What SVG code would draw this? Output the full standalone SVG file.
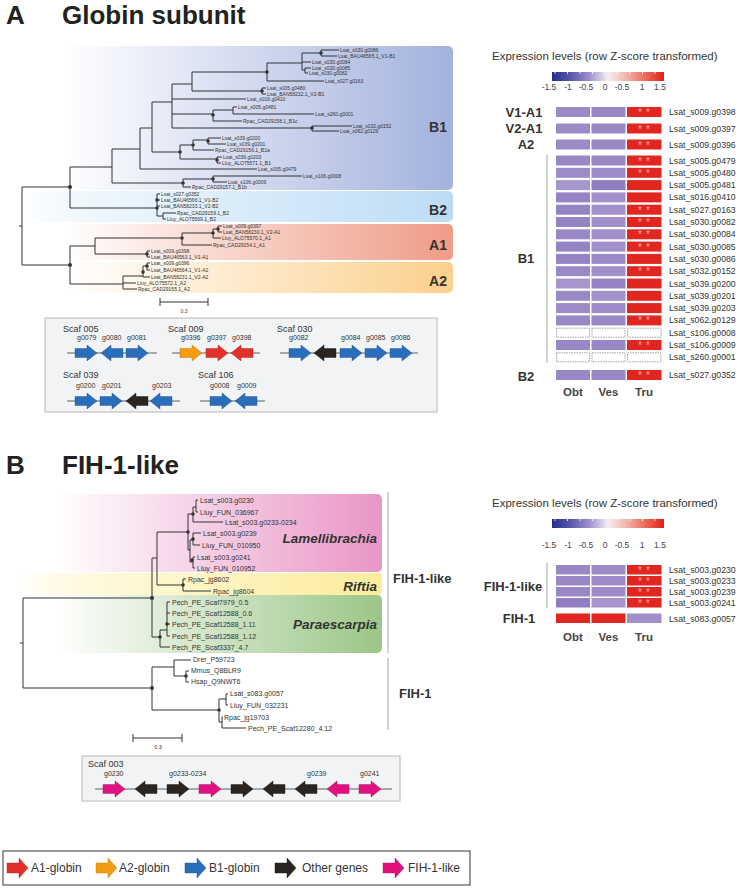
<svg xmlns="http://www.w3.org/2000/svg" xmlns:xlink="http://www.w3.org/1999/xlink" width="740" height="888" viewBox="0 0 740 888">
<style>
text{font-family:"Liberation Sans",Arial,sans-serif;fill:#333}
.ttl{font-size:26px;font-weight:bold;fill:#222}
.la{font-size:5px}
.lb{font-size:7px}
.cl{font-size:14px;font-weight:bold;fill:#333;text-anchor:end}
.ci{font-size:13.5px;font-weight:bold;font-style:italic;text-anchor:end}
.br{font-size:13px;font-weight:bold;fill:#333;text-anchor:middle}
.hl{font-size:8.7px}
.ht{font-size:11.5px;fill:#333}
.tk{font-size:8.5px;text-anchor:middle}
.tk text{fill:#444}
.col{font-size:11.5px;font-weight:bold;fill:#444;text-anchor:middle}
.sc{font-size:9px}
.gn{font-size:7px}
.lg{font-size:12px}
.ast{font-size:10px;text-anchor:middle;letter-spacing:4px}
.ast text{fill:#f7a8a8}
.tr{fill:none;stroke:#333;stroke-width:1}
.dot{fill:#333}
.gl{stroke:#a8a8a8;stroke-width:2}
.box{fill:#f2f3f5;stroke:#c4c4c4;stroke-width:1.2}
.p1{fill:#9a88c6}.p2{fill:#9d8bc8}.p3{fill:#a796cd}.p4{fill:#8f7dc0}.p5{fill:#a08fc9}.p6{fill:#9583c3}
.rd{fill:#e1251f}
.ds{fill:#fff;stroke:#888;stroke-width:0.8;stroke-dasharray:1.5 1}
.bk{stroke:#c4c4c4;stroke-width:1.5}
.ab{fill:#2a6ebb;stroke:#1d4f8c;stroke-width:0.4}
.ar{fill:#e2302a;stroke:#a81d19;stroke-width:0.4}
.ao{fill:#f39c12;stroke:#b5720b;stroke-width:0.4}
.ak{fill:#2b2522;stroke:#111;stroke-width:0.4}
.ap{fill:#e0107f;stroke:#a00a5a;stroke-width:0.4}
</style>
<defs>
<linearGradient id="gB1" x1="0" x2="1" y1="0" y2="0"><stop offset="0" stop-color="#fff"/><stop offset="0.1" stop-color="#fff"/><stop offset="1" stop-color="#a3b2de"/></linearGradient>
<linearGradient id="gB2" x1="0" x2="1" y1="0" y2="0"><stop offset="0" stop-color="#fff"/><stop offset="0.1" stop-color="#f3f9fd"/><stop offset="1" stop-color="#bcdcf5"/></linearGradient>
<linearGradient id="gA1" x1="0" x2="1" y1="0" y2="0"><stop offset="0" stop-color="#fff"/><stop offset="0.1" stop-color="#fff"/><stop offset="1" stop-color="#ef9c86"/></linearGradient>
<linearGradient id="gA2" x1="0" x2="1" y1="0" y2="0"><stop offset="0" stop-color="#fff"/><stop offset="0.1" stop-color="#fff"/><stop offset="1" stop-color="#fcd08c"/></linearGradient>
<linearGradient id="gLam" x1="0" x2="1" y1="0" y2="0"><stop offset="0" stop-color="#fff"/><stop offset="0.1" stop-color="#fff"/><stop offset="1" stop-color="#e996c6"/></linearGradient>
<linearGradient id="gRif" x1="0" x2="1" y1="0" y2="0"><stop offset="0" stop-color="#fff"/><stop offset="0.1" stop-color="#fffbe6"/><stop offset="1" stop-color="#fcec9a"/></linearGradient>
<linearGradient id="gPar" x1="0" x2="1" y1="0" y2="0"><stop offset="0" stop-color="#fff"/><stop offset="0.1" stop-color="#fff"/><stop offset="1" stop-color="#9cc687"/></linearGradient>
<linearGradient id="gCB" x1="0" x2="1" y1="0" y2="0"><stop offset="0" stop-color="#232f8c"/><stop offset="0.17" stop-color="#5b58aa"/><stop offset="0.33" stop-color="#9b8fcb"/><stop offset="0.5" stop-color="#f4eef1"/><stop offset="0.67" stop-color="#f1b3a8"/><stop offset="0.83" stop-color="#ea6d5c"/><stop offset="1" stop-color="#e31f1b"/></linearGradient>
<path id="ar" d="M0,-4.5H12V-8L22,0L12,8V4.5H0Z"/>
<path id="al" d="M22,-4.5H10V-8L0,0L10,8V4.5H22Z"/>
<path id="lgA" d="M0,-5H12V-10L21,0L12,10V5H0Z"/>
<g id="cbar"><rect x="0" y="0" width="112" height="9" fill="url(#gCB)"/><path d="M3,0v2M15.5,0v2M28,0v2M40.5,0v2M53,0v2M65.5,0v2M78,0v2M90.5,0v2M103,0v2" stroke="#fff" stroke-width="0.8"/></g>
</defs>
<rect width="740" height="888" fill="#fff"/>

<!-- Titles -->
<text class="ttl" x="6" y="24">A</text>
<text class="ttl" x="62" y="24">Globin subunit</text>
<text class="ttl" x="6" y="474">B</text>
<text class="ttl" x="62" y="474">FIH-1-like</text>

<!-- Panel A clade bands -->
<g id="bands-A">
<rect x="20" y="46" width="433" height="144" rx="5" fill="url(#gB1)"/>
<rect x="20" y="191" width="433" height="31" rx="5" fill="url(#gB2)"/>
<rect x="20" y="224" width="433" height="36" rx="5" fill="url(#gA1)"/>
<rect x="20" y="262" width="433" height="31" rx="5" fill="url(#gA2)"/>
<text class="cl" x="447" y="132">B1</text>
<text class="cl" x="447" y="215">B2</text>
<text class="cl" x="447" y="250">A1</text>
<text class="cl" x="447" y="286">A2</text>
</g>

<!-- Tree A connectors -->
<g id="tree-A-connectors">
<path class="tr" d="M19,226H22M22,187V265M22,187H70M22,265H70
M70,167V208M70,167H112M70,208H157
M112,149V183M112,149H140M112,183H183
M140,128V169M140,128H152M140,169H257
M152,102V152M152,102H172M152,152H180
M172,84V128M172,84H192M172,99H246M172,114H213M172,128H312
M192,72V91M192,72H267M192,91H262
M267,63V81M267,63H302M267,81H324
M302,53V70M302,53H321M302,62H311M302,70H305
M321,50V56M321,50H339M321,56H337
M305,68V73M305,68H311M305,73H308
M262,88V94M262,88H266M262,94H266
M213,110V121M213,110H233M213,121H242
M233,107V114M233,107H237M233,114H314
M312,126V131M312,126H352M312,131H339
M180,145V159M180,145H193M180,159H217
M193,140V150M193,140H208M193,150H214
M208,138V144M208,138H221M208,144H226
M217,157V163M217,157H222M217,163H221
M183,179V187M183,179H213M183,187H191
M213,176V182M213,176H302M213,182H227
M157,194V216M157,194H160M157,200H160M157,206H160M157,216H163
M163,213V219M163,213H176M163,219H166
M70,246V284M70,246H95M70,284H123
M95,238V254M95,238H182M95,254H147
M182,233V245M182,233H213M182,245H212
M213,229V238M213,229H218M213,238H221
M218,226V232M218,226H222M218,232H222
M147,251V257M147,251H150M147,257H150
M123,276V289M123,276H143M123,283H136M123,289H137
M143,266V277M143,266H147M143,277H150
M147,263V270M147,263H150M147,270H150"/>
<g class="dot">
<circle cx="70" cy="187" r="2"/><circle cx="70" cy="265" r="2"/><circle cx="157" cy="200" r="1.8"/><circle cx="157" cy="208" r="1.8"/>
<circle cx="183" cy="183" r="1.8"/><circle cx="213" cy="179" r="1.8"/><circle cx="180" cy="152" r="1.8"/><circle cx="193" cy="145" r="1.8"/>
<circle cx="208" cy="141" r="1.8"/><circle cx="217" cy="160" r="1.8"/><circle cx="321" cy="53" r="1.8"/><circle cx="267" cy="72" r="1.8"/>
<circle cx="262" cy="91" r="1.8"/><circle cx="213" cy="115" r="1.8"/><circle cx="312" cy="128" r="1.8"/>
<circle cx="182" cy="238" r="1.8"/><circle cx="213" cy="233" r="1.8"/><circle cx="218" cy="229" r="1.8"/><circle cx="147" cy="254" r="1.8"/>
<circle cx="147" cy="266" r="1.8"/><circle cx="143" cy="272" r="1.8"/>
</g>
<path class="tr" d="M160,302H208M160,298V306M208,298V306"/>
</g>

<!-- Tree A leaves -->
<g id="leaves-A" class="la">
<text x="340" y="52">Lsat_s030.g0086</text>
<text x="338" y="58">Lsat_BAU46565.1_V1-B1</text>
<text x="312" y="64">Lsat_s030.g0084</text>
<text x="312" y="70">Lsat_s030.g0085</text>
<text x="309" y="75">Lsat_s030.g0082</text>
<text x="325" y="83">Lsat_s027.g0163</text>
<text x="267" y="90">Lsat_s005.g0480</text>
<text x="267" y="96">Lsat_BAN58232.1_V2-B1</text>
<text x="247" y="101">Lsat_s016.g0410</text>
<text x="238" y="109">Lsat_s005.g0481</text>
<text x="315" y="116">Lsat_s260.g0001</text>
<text x="243" y="123">Rpac_CAD29158.1_B1c</text>
<text x="353" y="128">Lsat_s032.g0152</text>
<text x="340" y="133">Lsat_s062.g0129</text>
<text x="222" y="140">Lsat_s039.g0200</text>
<text x="227" y="146">Lsat_s039.g0201</text>
<text x="215" y="152">Rpac_CAD29156.1_B1a</text>
<text x="223" y="159">Lsat_s039.g0203</text>
<text x="222" y="165">Lluy_ALO75571.1_B1</text>
<text x="258" y="171">Lsat_s005.g0479</text>
<text x="303" y="178">Lsat_s106.g0008</text>
<text x="228" y="184">Lsat_s106.g0009</text>
<text x="192" y="189">Rpac_CAD29157.1_B1b</text>
<text x="161" y="196">Lsat_s027.g0352</text>
<text x="161" y="202">Lsat_BAU46566.1_V1-B2</text>
<text x="161" y="208">Lsat_BAN58233.1_V2-B2</text>
<text x="177" y="215">Rpac_CAD29159.1_B2</text>
<text x="167" y="221">Lluy_ALO75569.1_B2</text>
<text x="223" y="228">Lsat_s009.g0397</text>
<text x="223" y="234">Lsat_BAN58230.1_V2-A1</text>
<text x="222" y="240">Lluy_ALO75570.1_A1</text>
<text x="213" y="247">Rpac_CAD29154.1_A1</text>
<text x="151" y="253">Lsat_s009.g0398</text>
<text x="151" y="259">Lsat_BAU46563.1_V1-A1</text>
<text x="151" y="265">Lsat_s009.g0396</text>
<text x="151" y="272">Lsat_BAU46564.1_V1-A2</text>
<text x="151" y="279">Lsat_BAN58231.1_V2-A2</text>
<text x="137" y="285">Lluy_ALO75572.1_A2</text>
<text x="138" y="291">Rpac_CAD29155.1_A2</text>
<text x="184" y="313" text-anchor="middle">0.3</text>
</g>

<!-- Scaffold box A -->
<g id="scaf-A">
<rect class="box" x="45" y="318" width="392" height="94"/>
<text class="sc" x="63" y="332">Scaf 005</text>
<text class="gn" x="77" y="340">g0079</text><text class="gn" x="102" y="340">g0080</text><text class="gn" x="127" y="340">g0081</text>
<line class="gl" x1="67" y1="353" x2="157" y2="353"/>
<use href="#ar" x="75" y="353" class="ab"/><use href="#al" x="101" y="353" class="ab"/><use href="#ar" x="126" y="353" class="ab"/>
<text class="sc" x="168" y="332">Scaf 009</text>
<text class="gn" x="181" y="340">g0396</text><text class="gn" x="207" y="340">g0397</text><text class="gn" x="232" y="340">g0398</text>
<line class="gl" x1="172" y1="353" x2="260" y2="353"/>
<use href="#ar" x="180" y="353" class="ao"/><use href="#ar" x="206" y="353" class="ar"/><use href="#al" x="231" y="353" class="ar"/>
<text class="sc" x="277" y="332">Scaf 030</text>
<text class="gn" x="289" y="340">g0082</text><text class="gn" x="341" y="340">g0084</text><text class="gn" x="366" y="340">g0085</text><text class="gn" x="391" y="340">g0086</text>
<line class="gl" x1="280" y1="353" x2="418" y2="353"/>
<use href="#ar" x="289" y="353" class="ab"/><use href="#al" x="314" y="353" class="ak"/><use href="#ar" x="340" y="353" class="ab"/><use href="#ar" x="365" y="353" class="ab"/><use href="#ar" x="390" y="353" class="ab"/>
<text class="sc" x="63" y="378">Scaf 039</text>
<text class="gn" x="76" y="388">g0200</text><text class="gn" x="102" y="388">g0201</text><text class="gn" x="152" y="388">g0203</text>
<line class="gl" x1="67" y1="401" x2="180" y2="401"/>
<use href="#ar" x="75" y="401" class="ab"/><use href="#ar" x="100" y="401" class="ab"/><use href="#al" x="126" y="401" class="ak"/><use href="#al" x="150" y="401" class="ab"/>
<text class="sc" x="198" y="378">Scaf 106</text>
<text class="gn" x="210" y="388">g0008</text><text class="gn" x="237" y="388">g0009</text>
<line class="gl" x1="200" y1="401" x2="265" y2="401"/>
<use href="#ar" x="210" y="401" class="ab"/><use href="#al" x="235" y="401" class="ab"/>
</g>

<!-- Heatmap A -->
<g id="heatmap-A">
<text class="ht" x="492" y="60">Expression levels (row Z-score transformed)</text>
<use href="#cbar" x="552" y="72"/>
<g class="tk"><text x="549" y="90">-1.5</text><text x="568" y="90">-1</text><text x="586" y="90">-0.5</text><text x="605" y="90">0</text><text x="622" y="90">-0.5</text><text x="642" y="90">1</text><text x="660" y="90">1.5</text></g>
<text class="br" x="524" y="117">V1-A1</text>
<text class="br" x="524" y="133">V2-A1</text>
<text class="br" x="526" y="149">A2</text>
<text class="br" x="526" y="263">B1</text>
<text class="br" x="526" y="381">B2</text>
<line class="bk" x1="547" y1="155" x2="547" y2="363"/>
<rect class="p2" x="556" y="107" width="34" height="10"/><rect class="p1" x="591.5" y="107" width="34" height="10"/><rect class="rd" x="627" y="107" width="34.5" height="10"/>
<rect class="p2" x="556" y="123.5" width="34" height="10"/><rect class="p1" x="591.5" y="123.5" width="34" height="10"/><rect class="rd" x="627" y="123.5" width="34.5" height="10"/>
<rect class="p2" x="556" y="139.5" width="34" height="10"/><rect class="p1" x="591.5" y="139.5" width="34" height="10"/><rect class="rd" x="627" y="139.5" width="34.5" height="10"/>
<rect class="p1" x="556" y="155.5" width="34" height="10"/><rect class="p1" x="591.5" y="155.5" width="34" height="10"/><rect class="rd" x="627" y="155.5" width="34.5" height="10"/>
<rect class="p2" x="556" y="167.8" width="34" height="10"/><rect class="p2" x="591.5" y="167.8" width="34" height="10"/><rect class="rd" x="627" y="167.8" width="34.5" height="10"/>
<rect class="p3" x="556" y="180.1" width="34" height="10"/><rect class="p4" x="591.5" y="180.1" width="34" height="10"/><rect class="rd" x="627" y="180.1" width="34.5" height="10"/>
<rect class="p6" x="556" y="192.4" width="34" height="10"/><rect class="p5" x="591.5" y="192.4" width="34" height="10"/><rect class="rd" x="627" y="192.4" width="34.5" height="10"/>
<rect class="p6" x="556" y="204.7" width="34" height="10"/><rect class="p5" x="591.5" y="204.7" width="34" height="10"/><rect class="rd" x="627" y="204.7" width="34.5" height="10"/>
<rect class="p6" x="556" y="217" width="34" height="10"/><rect class="p5" x="591.5" y="217" width="34" height="10"/><rect class="rd" x="627" y="217" width="34.5" height="10"/>
<rect class="p1" x="556" y="229.3" width="34" height="10"/><rect class="p5" x="591.5" y="229.3" width="34" height="10"/><rect class="rd" x="627" y="229.3" width="34.5" height="10"/>
<rect class="p6" x="556" y="241.6" width="34" height="10"/><rect class="p5" x="591.5" y="241.6" width="34" height="10"/><rect class="rd" x="627" y="241.6" width="34.5" height="10"/>
<rect class="p6" x="556" y="253.9" width="34" height="10"/><rect class="p2" x="591.5" y="253.9" width="34" height="10"/><rect class="rd" x="627" y="253.9" width="34.5" height="10"/>
<rect class="p1" x="556" y="266.2" width="34" height="10"/><rect class="p5" x="591.5" y="266.2" width="34" height="10"/><rect class="rd" x="627" y="266.2" width="34.5" height="10"/>
<rect class="p3" x="556" y="278.5" width="34" height="10"/><rect class="p6" x="591.5" y="278.5" width="34" height="10"/><rect class="rd" x="627" y="278.5" width="34.5" height="10"/>
<rect class="p1" x="556" y="290.8" width="34" height="10"/><rect class="p5" x="591.5" y="290.8" width="34" height="10"/><rect class="rd" x="627" y="290.8" width="34.5" height="10"/>
<rect class="p2" x="556" y="303.1" width="34" height="10"/><rect class="p2" x="591.5" y="303.1" width="34" height="10"/><rect class="rd" x="627" y="303.1" width="34.5" height="10"/>
<rect class="p1" x="556" y="315.4" width="34" height="10"/><rect class="p1" x="591.5" y="315.4" width="34" height="10"/><rect class="rd" x="627" y="315.4" width="34.5" height="10"/>
<rect class="ds" x="556.5" y="328.2" width="33" height="9"/><rect class="ds" x="592" y="328.2" width="33" height="9"/><rect class="ds" x="627.5" y="328.2" width="33.5" height="9"/>
<rect class="p1" x="556" y="340" width="34" height="10"/><rect class="p1" x="591.5" y="340" width="34" height="10"/><rect class="rd" x="627" y="340" width="34.5" height="10"/>
<rect class="ds" x="556.5" y="352.8" width="33" height="9"/><rect class="ds" x="592" y="352.8" width="33" height="9"/><rect class="ds" x="627.5" y="352.8" width="33.5" height="9"/>
<rect class="p1" x="556" y="370" width="34" height="10"/><rect class="p1" x="591.5" y="370" width="34" height="10"/><rect class="rd" x="627" y="370" width="34.5" height="10"/>
<g class="ast">
<text x="646" y="116">**</text><text x="646" y="132.5">**</text><text x="646" y="148.5">**</text>
<text x="646" y="164.5">**</text><text x="646" y="176.8">**</text><text x="646" y="213.7">**</text>
<text x="646" y="226">**</text><text x="646" y="238.3">**</text><text x="646" y="250.6">**</text>
<text x="646" y="275.2">**</text><text x="646" y="324.4">**</text><text x="646" y="349">**</text><text x="646" y="379">**</text>
</g>
<g class="hl">
<text x="669" y="115">Lsat_s009.g0398</text>
<text x="669" y="131.5">Lsat_s009.g0397</text>
<text x="669" y="147.5">Lsat_s009.g0396</text>
<text x="669" y="163.5">Lsat_s005.g0479</text>
<text x="669" y="175.8">Lsat_s005.g0480</text>
<text x="669" y="188.1">Lsat_s005.g0481</text>
<text x="669" y="200.4">Lsat_s016.g0410</text>
<text x="669" y="212.7">Lsat_s027.g0163</text>
<text x="669" y="225">Lsat_s030.g0082</text>
<text x="669" y="237.3">Lsat_s030.g0084</text>
<text x="669" y="249.6">Lsat_s030.g0085</text>
<text x="669" y="261.9">Lsat_s030.g0086</text>
<text x="669" y="274.2">Lsat_s032.g0152</text>
<text x="669" y="286.5">Lsat_s039.g0200</text>
<text x="669" y="298.8">Lsat_s039.g0201</text>
<text x="669" y="311.1">Lsat_s039.g0203</text>
<text x="669" y="323.4">Lsat_s062.g0129</text>
<text x="669" y="335.7">Lsat_s106.g0008</text>
<text x="669" y="348">Lsat_s106.g0009</text>
<text x="669" y="360.3">Lsat_s260.g0001</text>
<text x="669" y="378">Lsat_s027.g0352</text>
</g>
<text class="col" x="573" y="396">Obt</text><text class="col" x="608.5" y="396">Ves</text><text class="col" x="644" y="396">Tru</text>
</g>

<!-- Panel B clade bands -->
<g id="bands-B">
<rect x="20" y="494" width="362" height="78" rx="5" fill="url(#gLam)"/>
<rect x="20" y="573" width="362" height="22" rx="3" fill="url(#gRif)"/>
<rect x="20" y="595" width="362" height="58" rx="5" fill="url(#gPar)"/>
<text class="ci" x="377" y="543">Lamellibrachia</text>
<text class="ci" x="377" y="591">Riftia</text>
<text class="ci" x="377" y="629">Paraescarpia</text>
<line class="bk" x1="388" y1="492" x2="388" y2="653"/>
<line class="bk" x1="388" y1="658" x2="388" y2="730"/>
<text x="393" y="583" style="font-size:13px;font-weight:bold;fill:#333">FIH-1-like</text>
<text x="399" y="698" style="font-size:13px;font-weight:bold;fill:#333">FIH-1</text>
</g>

<!-- Tree B connectors -->
<g id="tree-B-connectors">
<path class="tr" d="M20,643H23M23,598V688M23,598H152M23,688H152
M152,558V637M152,558H157M152,637H160
M157,532V585M157,532H188M157,585H183
M188,514V550M188,514H193M188,550H190
M193,507V522M193,507H196M193,522H223
M196,500V512M196,500H198M196,512H198
M190,540V562M190,540H193M190,562H193
M193,533V545M193,533H201M193,545H200
M193,557V568M193,557H195M193,568H195
M183,579V591M183,579H186M183,591H211
M160,630V647M160,630H167M160,647H170
M167,602V636M167,602H170M167,613H170M167,624H170M167,636H170
M152,667V710M152,667H174M152,710H219
M174,660V676M174,660H191M174,676H186
M186,671V682M186,671H189M186,682H189
M219,699V722M219,699H226M219,722H222
M226,694V705M226,694H228M226,705H228
M222,717V728M222,717H223M222,728H246"/>
<g class="dot">
<circle cx="152" cy="598" r="2"/><circle cx="152" cy="688" r="2"/><circle cx="188" cy="532" r="1.8"/><circle cx="193" cy="514" r="1.8"/>
<circle cx="193" cy="539" r="1.8"/><circle cx="192" cy="560" r="1.8"/><circle cx="183" cy="585" r="1.8"/><circle cx="167" cy="624" r="1.8"/>
<circle cx="160" cy="637" r="1.8"/><circle cx="186" cy="676" r="1.8"/><circle cx="219" cy="710" r="1.8"/>
</g>
<path class="tr" d="M133,738H182M133,734V742M182,734V742"/>
</g>

<!-- Tree B leaves -->
<g id="leaves-B" class="lb">
<text x="200" y="502.5">Lsat_s003.g0230</text>
<text x="200" y="514.5">Lluy_FUN_036967</text>
<text x="225" y="524.5">Lsat_s003.g0233-0234</text>
<text x="203" y="535.5">Lsat_s003.g0239</text>
<text x="202" y="547.5">Lluy_FUN_010950</text>
<text x="197" y="559.5">Lsat_s003.g0241</text>
<text x="197" y="570.5">Lluy_FUN_010952</text>
<text x="188" y="581.5">Rpac_jg8602</text>
<text x="213" y="593.5">Rpac_jg8604</text>
<text x="172" y="604.5">Pech_PE_Scaf7979_0.5</text>
<text x="172" y="615.5">Pech_PE_Scaf12588_0.6</text>
<text x="172" y="626.5">Pech_PE_Scaf12588_1.11</text>
<text x="172" y="638.5">Pech_PE_Scaf12588_1.12</text>
<text x="172" y="649.5">Pech_PE_Scaf3337_4.7</text>
<text x="193" y="661.5">Drer_P59723</text>
<text x="191" y="672.5">Mmus_Q8BLR9</text>
<text x="191" y="683.5">Hsap_Q9NWT6</text>
<text x="230" y="695.5">Lsat_s083.g0057</text>
<text x="230" y="707.5">Lluy_FUN_032231</text>
<text x="224" y="719.5">Rpac_jg19703</text>
<text x="248" y="730.5">Pech_PE_Scaf12280_4.12</text>
<text x="158" y="749" style="font-size:5.5px" text-anchor="middle">0.3</text>
</g>

<!-- Scaffold box B -->
<g id="scaf-B">
<rect class="box" x="82" y="756" width="318" height="45"/>
<text class="sc" x="88" y="767">Scaf 003</text>
<text class="gn" x="104" y="776">g0230</text><text class="gn" x="169" y="776">g0233-0234</text><text class="gn" x="307" y="776">g0239</text><text class="gn" x="360" y="776">g0241</text>
<line class="gl" x1="95" y1="789" x2="392" y2="789"/>
<use href="#ar" x="103" y="789" class="ap"/><use href="#al" x="135" y="789" class="ak"/><use href="#ar" x="167" y="789" class="ak"/>
<use href="#ar" x="199" y="789" class="ap"/><use href="#ar" x="231" y="789" class="ak"/><use href="#al" x="263" y="789" class="ak"/>
<use href="#al" x="295" y="789" class="ak"/><use href="#al" x="327" y="789" class="ap"/><use href="#ar" x="359" y="789" class="ap"/>
</g>

<!-- Heatmap B -->
<g id="heatmap-B">
<text class="ht" x="492" y="507">Expression levels (row Z-score transformed)</text>
<use href="#cbar" x="552" y="519"/>
<g class="tk"><text x="549" y="548">-1.5</text><text x="568" y="548">-1</text><text x="586" y="548">-0.5</text><text x="605" y="548">0</text><text x="622" y="548">-0.5</text><text x="642" y="548">1</text><text x="660" y="548">1.5</text></g>
<line class="bk" x1="547" y1="563" x2="547" y2="608"/>
<text class="br" x="513" y="591">FIH-1-like</text>
<text class="br" x="519" y="623">FIH-1</text>
<rect class="p1" x="556" y="565" width="34" height="9.5"/><rect class="p2" x="591.5" y="565" width="34" height="9.5"/><rect class="rd" x="627" y="565" width="34.5" height="9.5"/>
<rect class="p1" x="556" y="576" width="34" height="9.5"/><rect class="p2" x="591.5" y="576" width="34" height="9.5"/><rect class="rd" x="627" y="576" width="34.5" height="9.5"/>
<rect class="p1" x="556" y="587" width="34" height="9.5"/><rect class="p2" x="591.5" y="587" width="34" height="9.5"/><rect class="rd" x="627" y="587" width="34.5" height="9.5"/>
<rect class="p4" x="556" y="598" width="34" height="9.5"/><rect class="p3" x="591.5" y="598" width="34" height="9.5"/><rect class="rd" x="627" y="598" width="34.5" height="9.5"/>
<rect class="rd" x="556" y="613.5" width="34" height="9.5"/><rect class="rd" x="591.5" y="613.5" width="34" height="9.5"/><rect class="p5" x="627" y="613.5" width="34.5" height="9.5"/>
<g class="ast"><text x="646" y="573.5">**</text><text x="646" y="584.5">**</text><text x="646" y="595.5">**</text><text x="646" y="606.5">**</text></g>
<g class="hl">
<text x="669" y="573">Lsat_s003.g0230</text>
<text x="669" y="584">Lsat_s003.g0233</text>
<text x="669" y="595">Lsat_s003.g0239</text>
<text x="669" y="606">Lsat_s003.g0241</text>
<text x="669" y="621.5">Lsat_s083.g0057</text>
</g>
<text class="col" x="573" y="641">Obt</text><text class="col" x="608.5" y="641">Ves</text><text class="col" x="644" y="641">Tru</text>
</g>

<!-- Legend -->
<g id="legend">
<rect x="3" y="851" width="467" height="34" fill="#fff" stroke="#555" stroke-width="1.2"/>
<use href="#lgA" x="7" y="868" class="ar"/><text class="lg" x="31" y="872">A1-globin</text>
<use href="#lgA" x="96" y="868" class="ao"/><text class="lg" x="119" y="872">A2-globin</text>
<use href="#lgA" x="185" y="868" class="ab"/><text class="lg" x="209" y="872">B1-globin</text>
<use href="#lgA" x="275" y="868" class="ak"/><text class="lg" x="302" y="872">Other genes</text>
<use href="#lgA" x="383" y="868" class="ap"/><text class="lg" x="408" y="872">FIH-1-like</text>
</g>
</svg>
